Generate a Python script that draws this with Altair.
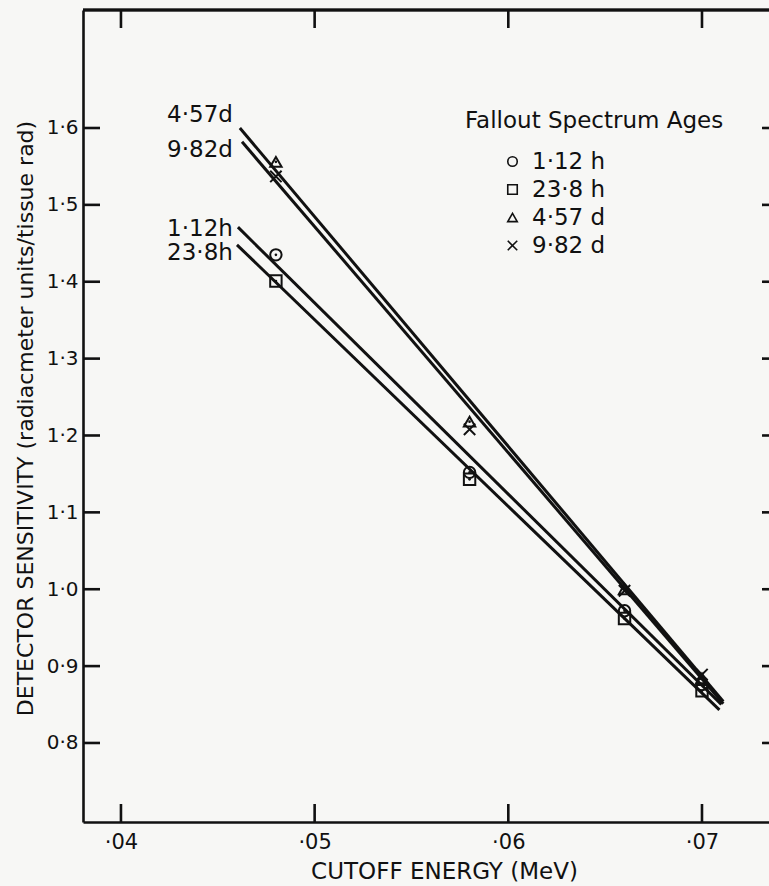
import altair as alt
import pandas as pd

# ---------------- data ----------------
series = ["1·12 h", "23·8 h", "4·57 d", "9·82 d"]
line_labels = ["1·12h", "23·8h", "4·57d", "9·82d"]
shapes = ["circle", "square", "triangle-up", "M-1,-1L1,1M1,-1L-1,1"]

energy = [0.048, 0.058, 0.066, 0.070]
sens_112h = [1.435, 1.152, 0.972, 0.876]
sens_238h = [1.401, 1.143, 0.962, 0.868]
sens_457d = [1.556, 1.218, 1.000, 0.884]
sens_982d = [1.537, 1.208, 0.998, 0.889]

# fitted straight lines: start and end points (x, y)
line_x0 = [0.04604, 0.04599, 0.04614, 0.04625]
line_y0 = [1.471, 1.448, 1.600, 1.582]
line_x1 = [0.0710, 0.0709, 0.0711, 0.0711]
line_y1 = [0.850, 0.843, 0.854, 0.851]

# line annotation anchors (data units)
label_x = [0.04578, 0.04578, 0.04578, 0.04578]
label_y = [1.469, 1.437, 1.617, 1.572]

x_tick_values = [0.04, 0.05, 0.06, 0.07]
x_tick_labels = ["·04", "·05", "·06", "·07"]
y_tick_values = [0.8, 0.9, 1.0, 1.1, 1.2, 1.3, 1.4, 1.5, 1.6]
y_tick_labels = ["0·8", "0·9", "1·0", "1·1", "1·2", "1·3", "1·4", "1·5", "1·6"]

x_domain = [0.03804, 0.07346]
y_domain = [0.6972, 1.7535]

# ---------------- tables ----------------
all_sens = [sens_112h, sens_238h, sens_457d, sens_982d]
pts = pd.DataFrame(
    [{"series": s, "x": x, "y": y} for s, ys in zip(series, all_sens) for x, y in zip(energy, ys)]
)
lines = pd.DataFrame(
    [{"series": s, "x": a, "y": b} for s, a, b in zip(series, line_x0, line_y0)]
    + [{"series": s, "x": a, "y": b} for s, a, b in zip(series, line_x1, line_y1)]
)
labels = pd.DataFrame({"text": line_labels, "x": label_x, "y": label_y})
xt = pd.DataFrame({"v": x_tick_values})
yt = pd.DataFrame({"v": y_tick_values})


def label_expr(values, texts):
    parts = [f"datum.value == {v} ? '{t}'" for v, t in zip(values, texts)]
    return " : ".join(parts) + " : ''"


INK = "#111111"
FONT = "DejaVu Sans"
W, H = 686, 812

xs = alt.Scale(domain=x_domain, nice=False, zero=False)
ys = alt.Scale(domain=y_domain, nice=False, zero=False)

x_axis = alt.Axis(
    values=x_tick_values, labelExpr=label_expr(x_tick_values, x_tick_labels),
    ticks=False, tickSize=0, grid=False, domain=True, domainColor=INK, domainWidth=2.6,
    labelFont=FONT, labelFontSize=21, labelColor=INK, labelPadding=9,
    title="CUTOFF ENERGY (MeV)", titleFont=FONT, titleFontSize=23, titleFontWeight="normal",
    titleColor=INK, titleX=361, titleY=49, titleBaseline="middle", titleAlign="center",
)
y_axis = alt.Axis(
    values=y_tick_values, labelExpr=label_expr(y_tick_values, y_tick_labels),
    ticks=False, tickSize=0, grid=False, domain=True, domainColor=INK, domainWidth=2.6,
    labelFont=FONT, labelFontSize=20, labelColor=INK, labelPadding=5,
    title="DETECTOR SENSITIVITY (radiacmeter units/tissue rad)", titleFont=FONT,
    titleFontSize=22, titleFontWeight="normal", titleColor=INK,
    titleX=-58, titleY=408, titleAngle=270, titleBaseline="middle", titleAlign="center",
)

shape_scale = alt.Scale(domain=series, range=shapes)
legend = alt.Legend(
    orient="none", legendX=382, legendY=100, padding=0,
    title="Fallout Spectrum Ages", titleFont=FONT, titleFontSize=23, titleFontWeight="normal",
    titleColor=INK, titleLimit=400, titleAnchor="start", titleAlign="left", titlePadding=17,
    labelFont=FONT, labelFontSize=23, labelColor=INK, labelOffset=8,
    symbolOffset=36, symbolSize=90, symbolStrokeWidth=1.6, symbolStrokeColor=INK,
    symbolFillColor="transparent", rowPadding=4,
)

base_lines = alt.Chart(lines).mark_line(color=INK, strokeWidth=3).encode(
    x=alt.X("x:Q", scale=xs, axis=x_axis),
    y=alt.Y("y:Q", scale=ys, axis=y_axis),
    detail="series:N",
)

points = alt.Chart(pts).mark_point(filled=False, color=INK, strokeWidth=2, size=130, opacity=1).encode(
    x=alt.X("x:Q", scale=xs),
    y=alt.Y("y:Q", scale=ys),
    shape=alt.Shape("series:N", scale=shape_scale, legend=legend),
)

dots = alt.Chart(pts).transform_filter(
    alt.FieldOneOfPredicate(field="series", oneOf=series[:3])
).mark_circle(color=INK, size=7, opacity=1).encode(
    x=alt.X("x:Q", scale=xs),
    y=alt.Y("y:Q", scale=ys),
)

texts = alt.Chart(labels).mark_text(
    align="right", baseline="middle", font=FONT, fontSize=23, color=INK
).encode(
    x=alt.X("x:Q", scale=xs),
    y=alt.Y("y:Q", scale=ys),
    text="text:N",
)

# inward ticks on all four sides
top_ticks = alt.Chart(xt).mark_rule(color=INK, strokeWidth=2.6).encode(
    x=alt.X("v:Q", scale=xs), y=alt.value(0), y2=alt.value(18))
bottom_ticks = alt.Chart(xt).mark_rule(color=INK, strokeWidth=2.6).encode(
    x=alt.X("v:Q", scale=xs), y=alt.value(H), y2=alt.value(H - 18))
left_ticks = alt.Chart(yt).mark_rule(color=INK, strokeWidth=2.6).encode(
    y=alt.Y("v:Q", scale=ys), x=alt.value(0), x2=alt.value(17))
right_ticks = alt.Chart(yt).mark_rule(color=INK, strokeWidth=2.6).encode(
    y=alt.Y("v:Q", scale=ys), x=alt.value(W - 7), x2=alt.value(W))
top_frame = alt.Chart(xt).mark_rule(color=INK, strokeWidth=2.6).encode(
    x=alt.value(0), x2=alt.value(W), y=alt.value(0))

chart = alt.layer(
    top_frame, top_ticks, bottom_ticks, left_ticks, right_ticks,
    base_lines, points, dots, texts,
).properties(
    width=W, height=H,
    autosize=alt.AutoSizeParams(type="none"),
    padding={"left": 83, "top": 10, "right": 0, "bottom": 64},
    background="#f7f7f5",
).configure_view(stroke=None)

chart.save("out.html", embed_options={"renderer": "svg", "actions": False})
